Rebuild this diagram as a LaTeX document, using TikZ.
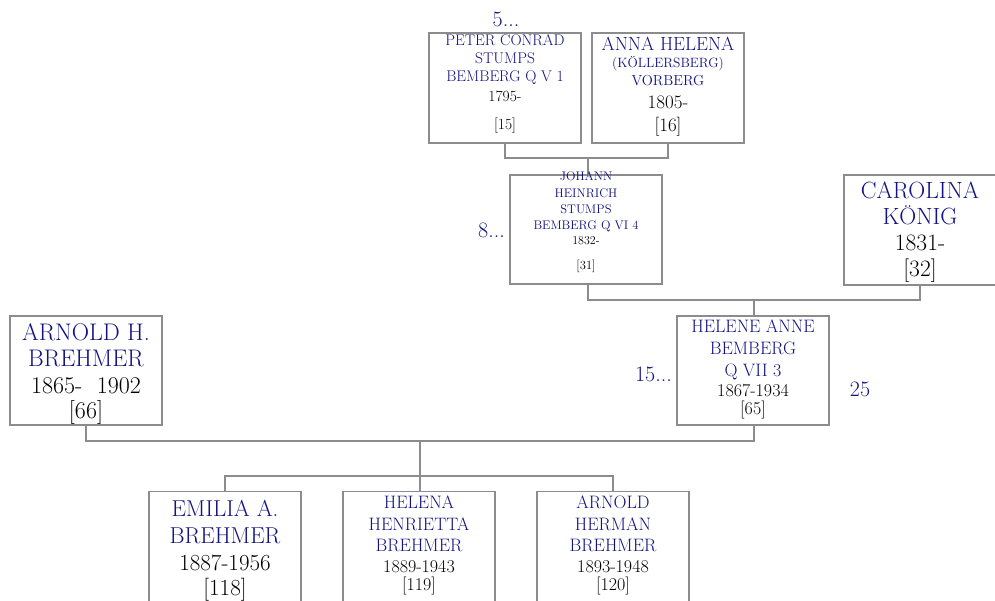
\documentclass[tikz,border=0pt]{standalone}
\usepackage{fontspec}
\definecolor{navy}{RGB}{18,18,130}
\definecolor{linegray}{RGB}{140,140,140}
\newcommand\tline[6]{\node[anchor=base,inner sep=0pt,text=#2,font=\fontsize{#3}{#3}\selectfont] (#1) at (#4,#5) {#6};}
\begin{document}
\begin{tikzpicture}[x=1pt,y=-1pt,
  pbox/.style={draw=linegray,line width=1.1pt,fill=white,minimum width=152pt,inner sep=0pt},
  conn/.style={draw=linegray,line width=1.1pt},
  side/.style={inner sep=0pt,text=navy,font=\fontsize{22}{22}\selectfont}]
\useasboundingbox (0,0) rectangle (995,601);
\fill[white] (0,0) rectangle (995,601);
% boxes
\node[pbox,minimum height=110pt] (peter) at (505,88) {};
\node[pbox,minimum height=110pt] (anna) at (668,88) {};
\node[pbox,minimum height=109pt] (johann) at (586,229.5) {};
\node[pbox,minimum height=110pt] (carolina) at (920,230) {};
\node[pbox,minimum height=109pt] (helene) at (753,370.5) {};
\node[pbox,minimum height=109pt] (arnold) at (86,370.5) {};
\node[pbox,minimum height=130pt,anchor=north] (emilia) at (225,491) {};
\node[pbox,minimum height=130pt,anchor=north] (hh) at (419,491) {};
\node[pbox,minimum height=130pt,anchor=north] (ah) at (613,491) {};
% connectors
\coordinate (m1) at (588,158);
\coordinate (m2) at (754,300);
\coordinate (m3) at (420,441);
\coordinate (m4) at (420,476);
\draw[conn] (peter.south) |- (m1) -| (anna.south);
\draw[conn] (m1) -- (johann.north -| m1);
\draw[conn] (johann.south -| m1) |- (m2) -| (carolina.south);
\draw[conn] (m2) -- (helene.north -| m2);
\draw[conn] (arnold.south) |- (m3) -| (helene.south -| m2);
\draw[conn] (m3) -- (m4);
\draw[conn] (emilia.north) |- (m4) -| (ah.north);
\draw[conn] (m4) -- (hh.north -| m4);
% texts
\node[side,anchor=base] (t5) at (506,27) {5...};
\tline{p1}{navy}{15.5}{505}{45.5}{PETER CONRAD}
\tline{p2}{navy}{15.5}{505}{63.5}{STUMPS}
\tline{p3}{navy}{15.5}{505}{81.5}{BEMBERG Q V 1}
\tline{p4}{black}{15.5}{505}{102}{1795-}
\tline{p5}{black}{15.5}{505}{129.5}{[15]}
\tline{a1}{navy}{19}{668}{51}{ANNA HELENA}
\tline{a2}{navy}{13.5}{668}{68}{(KÖLLERSBERG)}
\tline{a3}{navy}{14.5}{668}{86}{VORBERG}
\tline{a4}{black}{19}{668}{109}{1805-}
\tline{a5}{black}{19}{668}{132}{[16]}
\tline{j1}{navy}{12.5}{586}{181}{JOHANN}
\tline{j2}{navy}{12.5}{586}{197.5}{HEINRICH}
\tline{j3}{navy}{12.5}{586}{213.5}{STUMPS}
\tline{j4}{navy}{12.5}{586}{229.5}{BEMBERG Q VI 4}
\tline{j5}{black}{12}{586}{245}{1832-}
\tline{j6}{black}{12.5}{586}{270}{[31]}
\node[side,anchor=base east] (t8) at (505,238) {8...};
\tline{c1}{navy}{23.5}{920}{199}{CAROLINA}
\tline{c2}{navy}{23.5}{920}{225}{KÖNIG}
\tline{c3}{black}{23.5}{920}{251}{1831-}
\tline{c4}{black}{23.5}{920}{277}{[32]}
\tline{r1}{navy}{24}{86}{340}{ARNOLD H.}
\tline{r2}{navy}{24}{86}{366}{BREHMER}
\tline{r3}{black}{24}{86}{393}{1865-\ \ 1902}
\tline{r4}{black}{24}{86}{418}{[66]}
\tline{h1}{navy}{18}{753}{332}{HELENE ANNE}
\tline{h2}{navy}{18}{753}{354}{BEMBERG}
\tline{h3}{navy}{18}{753}{376}{Q VII 3}
\tline{h4}{black}{18}{753}{396}{1867-1934}
\tline{h5}{black}{18}{753}{414}{[65]}
\node[side,anchor=base east] (t15) at (672,381) {15...};
\node[side,anchor=base] (t25) at (860,396) {25};
\tline{e1}{navy}{23}{225}{516}{EMILIA A.}
\tline{e2}{navy}{23}{225}{543}{BREHMER}
\tline{e3}{black}{23}{225}{570}{1887-1956}
\tline{e4}{black}{23}{225}{595}{[118]}
\tline{hh1}{navy}{18}{419}{508}{HELENA}
\tline{hh2}{navy}{18}{419}{530}{HENRIETTA}
\tline{hh3}{navy}{18}{419}{551}{BREHMER}
\tline{hh4}{black}{18}{419}{572}{1889-1943}
\tline{hh5}{black}{18}{419}{590}{[119]}
\tline{ah1}{navy}{18}{613}{508}{ARNOLD}
\tline{ah2}{navy}{18}{613}{530}{HERMAN}
\tline{ah3}{navy}{18}{613}{551}{BREHMER}
\tline{ah4}{black}{18}{613}{572}{1893-1948}
\tline{ah5}{black}{18}{613}{590}{[120]}
\end{tikzpicture}
\end{document}
